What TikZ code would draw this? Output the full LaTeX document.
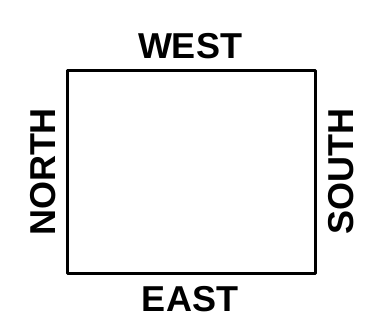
\documentclass[tikz,border=0pt]{standalone}
\usepackage{fontspec}
\setmainfont{Liberation Sans}
\usepackage{tikz}
\tikzset{side/.style={font=\fontsize{36}{40}\selectfont\bfseries,inner sep=0pt}}

\begin{document}
\begin{tikzpicture}[line cap=round,line join=round,x=1pt,y=1pt]
\useasboundingbox (0,0) rectangle (382,323);
\node [draw,line width=3pt,inner sep=0pt,minimum width=248pt,minimum height=203pt] (room) at (191,150.5) {};
\node [side,anchor=base] (west) at (190,264) {WEST};
\node [side,anchor=base] (east) at (190,11) {EAST};
\node [side,anchor=base,rotate=90] (north) at (55,151) {NORTH};
\node [side,anchor=base,rotate=90] (south) at (353,151) {SOUTH};
\end{tikzpicture}
\end{document}
